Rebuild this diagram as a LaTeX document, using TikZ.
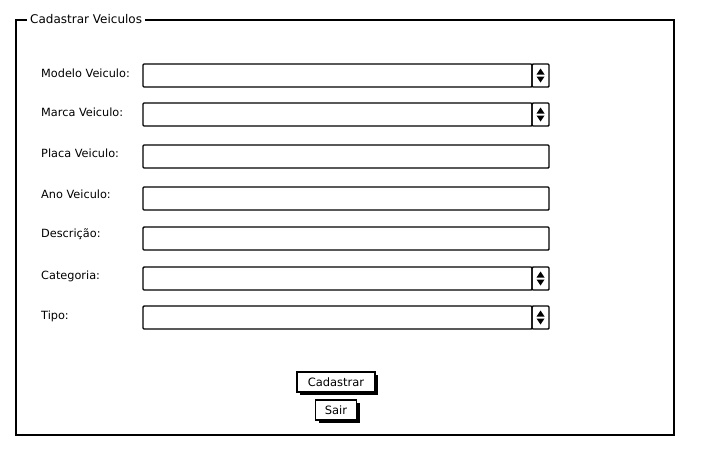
\documentclass[tikz,border=0pt]{standalone}
\usepackage{fontspec}
\setmainfont{DejaVu Sans}
\usetikzlibrary{positioning, shadows}

\begin{document}
\begin{tikzpicture}[x=1pt, y=-1pt,
  frame/.style={draw, line width=1.6pt},
  title/.style={anchor=west, fill=white, inner xsep=3pt, inner ysep=1pt, font=\fontsize{12}{13}\selectfont},
  lbl/.style={anchor=west, inner sep=0pt, font=\fontsize{11.3}{12}\selectfont},
  field/.style={draw, line width=1.4pt, rounded corners=1pt, minimum width=406pt, minimum height=23pt, anchor=north west, inner sep=0pt, outer sep=0pt},
  combo/.style={field, minimum width=389pt},
  spin/.style={draw, line width=1.4pt, rounded corners=1pt, minimum width=17pt, minimum height=23pt, inner sep=0pt, outer sep=0pt},
  button/.style={draw, line width=1.4pt, fill=white, minimum height=20pt, inner sep=0pt, outer sep=0pt, font=\fontsize{11.5}{13}\selectfont, drop shadow={shadow xshift=3pt, shadow yshift=-3pt, opacity=1, fill=black}}
]
  \useasboundingbox (0,0) rectangle (708,464);

  \draw[frame] (16,20) rectangle (674,435);
  \node[title] (caption) at (27,19) {Cadastrar Veiculos};

  % labels
  \node[lbl] (lmodelo) at (41,73) {Modelo Veiculo:};
  \node[lbl] (lmarca) at (41,112) {Marca Veiculo:};
  \node[lbl] (lplaca) at (41,153) {Placa Veiculo:};
  \node[lbl] (lano) at (41,194) {Ano Veiculo:};
  \node[lbl] (ldesc) at (41,234) {Descrição:};
  \node[lbl] (lcat) at (41,276) {Categoria:};
  \node[lbl] (ltipo) at (41,316) {Tipo:};

  % fields
  \node[combo] (modelo) at (143,64) {};
  \node[spin, right=0pt of modelo] (smodelo) {};
  \node[combo] (marca) at (143,103) {};
  \node[spin, right=0pt of marca] (smarca) {};
  \node[field] (placa) at (143,145) {};
  \node[field] (ano) at (143,187) {};
  \node[field] (desc) at (143,227) {};
  \node[combo] (cat) at (143,267) {};
  \node[spin, right=0pt of cat] (scat) {};
  \node[combo] (tipo) at (143,306) {};
  \node[spin, right=0pt of tipo] (stipo) {};

  \foreach \s in {smodelo, smarca, scat, stipo} {
    \fill ([shift={(-4,-1)}]\s.center) -- ++(8,0) -- ++(-4,-6) -- cycle;
    \fill ([shift={(-4,1)}]\s.center) -- ++(8,0) -- ++(-4,6) -- cycle;
  }

  % buttons
  \node[button, minimum width=78pt] (cadastrar) at (336,382) {Cadastrar};
  \node[button, minimum width=41pt, below=8pt of cadastrar] (sair) {Sair};
\end{tikzpicture}
\end{document}
